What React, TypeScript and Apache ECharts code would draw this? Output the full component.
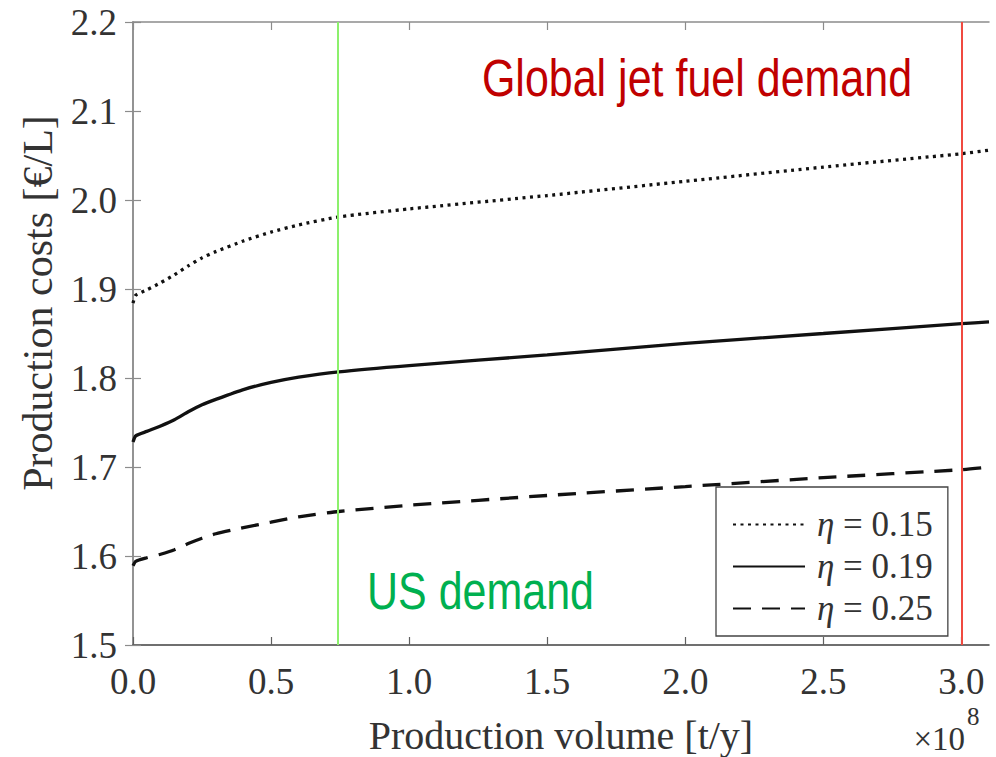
import React, { useEffect, useRef } from "react";
import * as echarts from "echarts";

// x in units of 1e8 t/y
const xVals = [0, 0.01, 0.05, 0.1, 0.15, 0.2, 0.25, 0.3, 0.4, 0.5, 0.6, 0.745, 1.0, 1.5, 2.0, 2.5, 3.0, 3.1];
const eta015 = [1.884, 1.893, 1.899, 1.907, 1.916, 1.926, 1.935, 1.942, 1.954, 1.964, 1.972, 1.981, 1.99, 2.005, 2.021, 2.037, 2.052, 2.056];
const eta019 = [1.728, 1.735, 1.74, 1.746, 1.753, 1.762, 1.77, 1.776, 1.787, 1.795, 1.801, 1.807, 1.814, 1.826, 1.839, 1.85, 1.861, 1.863];
const eta025 = [1.589, 1.594, 1.598, 1.602, 1.607, 1.614, 1.62, 1.625, 1.632, 1.638, 1.644, 1.65, 1.657, 1.668, 1.678, 1.688, 1.697, 1.7];
const seriesNames = ["η = 0.15", "η = 0.19", "η = 0.25"];
const xTicks = [0, 0.5, 1.0, 1.5, 2.0, 2.5, 3.0];
const usDemand = 0.745;
const globalDemand = 3.0;

const SERIF = "'Liberation Serif', 'Times New Roman', serif";
const SANS = "'Liberation Sans', Arial, sans-serif";
const AX_GRAY = "#8c8c8c";
const TXT = "#333333";

export default function App() {
  const ref = useRef<HTMLDivElement>(null);
  useEffect(() => {
    if (!ref.current) return;
    const chart = echarts.init(ref.current, null, { renderer: "svg" });
    const pairs = (ys: number[]) => xVals.map((x, i) => [x, ys[i]]);
    const lineBase = { type: "line", symbol: "none", smooth: 0.2, xAxisIndex: 0, yAxisIndex: 0 };
    chart.setOption({
      animation: false,
      grid: { left: 133, right: 7, top: 22, bottom: 112 },
      xAxis: [
        {
          type: "value", min: 0, max: 3.1, position: "bottom",
          axisLine: { show: true, lineStyle: { color: "#404040", width: 1.5 } },
          axisTick: { show: true, inside: true, length: 8, customValues: xTicks, lineStyle: { color: "#606060", width: 1.2 } },
          axisLabel: { customValues: xTicks, formatter: (v: number) => v.toFixed(1), fontFamily: SERIF, fontSize: 37, color: TXT, margin: 18 },
          splitLine: { show: false },
        },
        {
          type: "value", min: 0, max: 3.1, position: "top",
          axisLine: { show: true, lineStyle: { color: AX_GRAY, width: 1.5 } },
          axisTick: { show: true, inside: true, length: 8, customValues: xTicks, lineStyle: { color: AX_GRAY, width: 1.2 } },
          axisLabel: { show: false },
          splitLine: { show: false },
        },
      ],
      yAxis: [
        {
          type: "value", min: 1.5, max: 2.2, interval: 0.1, position: "left",
          axisLine: { show: true, lineStyle: { color: AX_GRAY, width: 1.5 } },
          axisTick: { show: true, inside: true, length: 8, lineStyle: { color: AX_GRAY, width: 1.2 } },
          axisLabel: { formatter: (v: number) => v.toFixed(1), fontFamily: SERIF, fontSize: 37, color: TXT, margin: 16 },
          splitLine: { show: false },
        },
        {
          type: "value", min: 1.5, max: 2.2, interval: 0.1, position: "right",
          axisLine: { show: true, lineStyle: { color: AX_GRAY, width: 1.5 } },
          axisTick: { show: true, inside: true, length: 8, lineStyle: { color: AX_GRAY, width: 1.2 } },
          axisLabel: { show: false },
          splitLine: { show: false },
        },
      ],
      legend: {
        orient: "vertical",
        left: 716,
        top: 487,
        padding: [20, 15, 10, 16],
        itemGap: 7,
        itemWidth: 72,
        itemHeight: 14,
        backgroundColor: "#ffffff",
        borderColor: "#444444",
        borderWidth: 1.3,
        borderRadius: 0,
        data: seriesNames,
        itemStyle: { color: "rgba(0,0,0,0)", borderColor: "rgba(0,0,0,0)", borderWidth: 0 },
        formatter: (name: string) => name.replace("η", "{i|η}"),
        textStyle: {
          fontFamily: SERIF, fontSize: 35, color: TXT, padding: [0, 0, 0, 7],
          rich: { i: { fontFamily: SERIF, fontSize: 35, fontStyle: "italic", color: TXT } },
        },
      },
      series: [
        {
          ...lineBase, name: seriesNames[0], data: pairs(eta015),
          lineStyle: { color: "#111", width: 3.3, type: [3, 4.5], cap: "butt" },
          itemStyle: { color: "#111" },
        },
        {
          ...lineBase, name: seriesNames[1], data: pairs(eta019),
          lineStyle: { color: "#111", width: 3.3, type: "solid" },
          itemStyle: { color: "#111" },
        },
        {
          ...lineBase, name: seriesNames[2], data: pairs(eta025),
          lineStyle: { color: "#111", width: 3.3, type: [18, 11], cap: "butt" },
          itemStyle: { color: "#111" },
        },
        {
          type: "line", name: "markers", data: [], xAxisIndex: 0, yAxisIndex: 0,
          markLine: {
            silent: true, symbol: "none", label: { show: false },
            data: [
              { xAxis: usDemand, lineStyle: { color: "#8cf06c", width: 2, type: "solid" } },
              { xAxis: globalDemand, lineStyle: { color: "#f04a40", width: 2, type: "solid" } },
            ],
          },
        },
      ],
      graphic: [
        {
          type: "text", x: 697, y: 78, scaleY: 1.2,
          style: { text: "Global jet fuel demand", font: `43px ${SANS}`, fill: "#c00000", align: "center", verticalAlign: "middle" },
        },
        {
          type: "text", x: 367, y: 591, scaleY: 1.2,
          style: { text: "US demand", font: `43px ${SANS}`, fill: "#00b050", align: "left", verticalAlign: "middle" },
        },
        {
          type: "text", x: 38, y: 303, rotation: Math.PI / 2,
          style: { text: "Production costs [€/L]", font: `42px ${SERIF}`, fill: TXT, align: "center", verticalAlign: "middle" },
        },
        {
          type: "text", x: 561, y: 735,
          style: { text: "Production volume [t/y]", font: `40px ${SERIF}`, fill: TXT, align: "center", verticalAlign: "middle" },
        },
        {
          type: "text", x: 965, y: 739,
          style: { text: "×10", font: `33px ${SERIF}`, fill: TXT, align: "right", verticalAlign: "middle" },
        },
        {
          type: "text", x: 967, y: 716,
          style: { text: "8", font: `25px ${SERIF}`, fill: TXT, align: "left", verticalAlign: "middle" },
        },
      ],
    });
    return () => chart.dispose();
  }, []);
  return (
    <div
      ref={ref}
      style={{ position: "fixed", left: 0, top: 0, width: 996, height: 757, background: "#ffffff" }}
    />
  );
}
